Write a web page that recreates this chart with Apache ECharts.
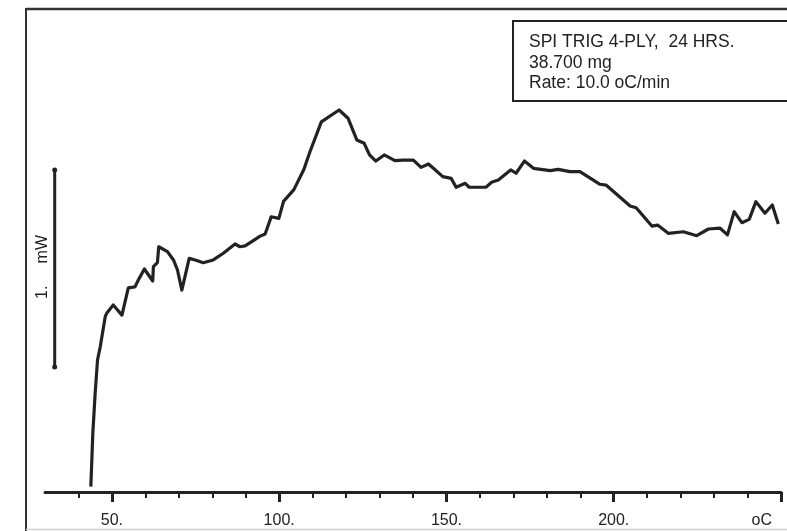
<!DOCTYPE html>
<html>
<head>
<meta charset="utf-8">
<script src="https://cdn.jsdelivr.net/npm/echarts@6/dist/echarts.min.js"></script>
<style>
  html, body { margin: 0; padding: 0; background: #fff; }
  #chart { width: 787px; height: 531px; }
</style>
</head>
<body>
<div id="chart"></div>
<script>
// Temperature (oC)
const temperature = [43.7, 44.3, 45.0, 45.7, 46.5, 48.0, 48.5, 50.4, 53.0, 54.9, 56.9, 57.9, 59.7, 62.2, 62.4, 63.6, 64.0, 66.6, 68.4, 69.6, 70.9, 73.1, 74.9, 77.3, 80.3, 83.3, 86.8, 88.3, 89.8, 91.8, 94.3, 95.8, 97.1, 97.6, 99.9, 101.3, 104.4, 107.4, 109.2, 112.6, 117.9, 120.6, 123.2, 125.4, 127.0, 128.9, 131.4, 134.6, 137.1, 140.1, 142.4, 144.6, 146.1, 148.9, 151.4, 152.9, 155.6, 156.8, 161.8, 163.5, 165.5, 169.2, 170.8, 173.3, 176.0, 181.0, 183.4, 186.9, 189.9, 195.9, 197.7, 204.9, 206.7, 211.4, 213.1, 216.3, 220.8, 224.8, 228.3, 231.8, 234.0, 236.0, 238.3, 240.5, 242.5, 245.2, 247.4, 249.2];
// Heat flow (mW, relative)
const heatFlow = [0.027, 0.300, 0.503, 0.670, 0.736, 0.890, 0.909, 0.949, 0.898, 1.036, 1.041, 1.076, 1.132, 1.071, 1.144, 1.164, 1.245, 1.220, 1.178, 1.127, 1.025, 1.186, 1.178, 1.164, 1.178, 1.212, 1.259, 1.245, 1.249, 1.271, 1.299, 1.310, 1.372, 1.397, 1.389, 1.475, 1.535, 1.638, 1.727, 1.879, 1.939, 1.897, 1.787, 1.770, 1.711, 1.680, 1.711, 1.682, 1.685, 1.685, 1.648, 1.665, 1.643, 1.601, 1.592, 1.547, 1.567, 1.547, 1.547, 1.572, 1.584, 1.635, 1.618, 1.680, 1.643, 1.631, 1.638, 1.626, 1.626, 1.562, 1.558, 1.452, 1.443, 1.350, 1.355, 1.313, 1.321, 1.301, 1.335, 1.339, 1.305, 1.423, 1.367, 1.384, 1.474, 1.415, 1.457, 1.360];
// Axis ticks
const majorTicks = [50, 100, 150, 200, 250];
const minorTicks = [40, 60, 70, 80, 90, 110, 120, 130, 140, 160, 170, 180, 190, 210, 220, 230, 240];
const tickLabels = ['50.', '100.', '150.', '200.', 'oC'];
// Scale bar: 1 mW
const scaleBarTemp = 32.9;
const scaleBarFrom = 0.635;
const scaleBarLength = 1;
const scaleBarLabel = '1.     mW';
// Annotation box
const infoLines = ['SPI TRIG 4-PLY,  24 HRS.', '38.700 mg', 'Rate: 10.0 oC/min'];

const FONT = "'Liberation Sans', Arial, Helvetica, sans-serif";
const INK = '#222222';

const chart = echarts.init(document.getElementById('chart'));
chart.setOption({
  animation: false,
  backgroundColor: '#ffffff',
  grid: { left: 45, right: 6, top: 19.2, bottom: 39 },
  xAxis: [
    {
      type: 'value', min: 30, max: 250, position: 'bottom',
      axisLine: { show: true, lineStyle: { color: INK, width: 3 } },
      axisTick: { show: true, customValues: majorTicks, length: 10, lineStyle: { color: INK, width: 3 } },
      axisLabel: {
        show: true, customValues: majorTicks, margin: 21, alignMaxLabel: 'right',
        color: INK, fontFamily: FONT, fontSize: 16,
        formatter: function (v) {
          const i = majorTicks.indexOf(v);
          const t = i >= 0 ? tickLabels[i] : '';
          return v === 250 ? '{u|' + t + '}' : t;
        },
        rich: { u: { color: INK, fontFamily: FONT, fontSize: 16, padding: [0, 9, 0, 0] } }
      },
      splitLine: { show: false }
    },
    {
      type: 'value', min: 30, max: 250, position: 'bottom',
      axisLine: { show: false },
      axisTick: { show: true, customValues: minorTicks, length: 6, lineStyle: { color: INK, width: 2 } },
      axisLabel: { show: false },
      splitLine: { show: false }
    }
  ],
  yAxis: { type: 'value', min: 0, max: 2.4, show: false },
  series: [
    {
      type: 'line', xAxisIndex: 0,
      data: temperature.map((t, i) => [t, heatFlow[i]]),
      symbol: 'none', smooth: false,
      lineStyle: { color: INK, width: 3.2, join: 'round' },
      silent: true
    },
    {
      type: 'line', xAxisIndex: 0,
      data: [[scaleBarTemp, scaleBarFrom], [scaleBarTemp, scaleBarFrom + scaleBarLength]],
      symbol: 'circle', symbolSize: 5,
      itemStyle: { color: INK },
      lineStyle: { color: INK, width: 3 },
      silent: true
    }
  ],
  graphic: [
    { type: 'line', shape: { x1: 26, y1: 9, x2: 787, y2: 9 }, style: { stroke: '#333', lineWidth: 2.5 }, silent: true },
    { type: 'line', shape: { x1: 26, y1: 8, x2: 26, y2: 531 }, style: { stroke: '#333', lineWidth: 2 }, silent: true },
    { type: 'line', shape: { x1: 26, y1: 529.5, x2: 787, y2: 529.5 }, style: { stroke: '#d0d0d0', lineWidth: 1.5 }, silent: true },
    { type: 'rect', shape: { x: 513, y: 21, width: 290, height: 80 }, style: { fill: '#fff', stroke: INK, lineWidth: 2 }, silent: true },
    { type: 'text', x: 529, y: 32, style: { text: infoLines.join('\n'), fill: INK, font: '17.5px ' + FONT, lineHeight: 20.5, verticalAlign: 'top' }, silent: true },
    { type: 'text', x: 43, y: 267, rotation: Math.PI / 2, style: { text: scaleBarLabel, fill: INK, font: '16px ' + FONT, align: 'center', verticalAlign: 'middle' }, silent: true }
  ]
});
</script>
</body>
</html>
